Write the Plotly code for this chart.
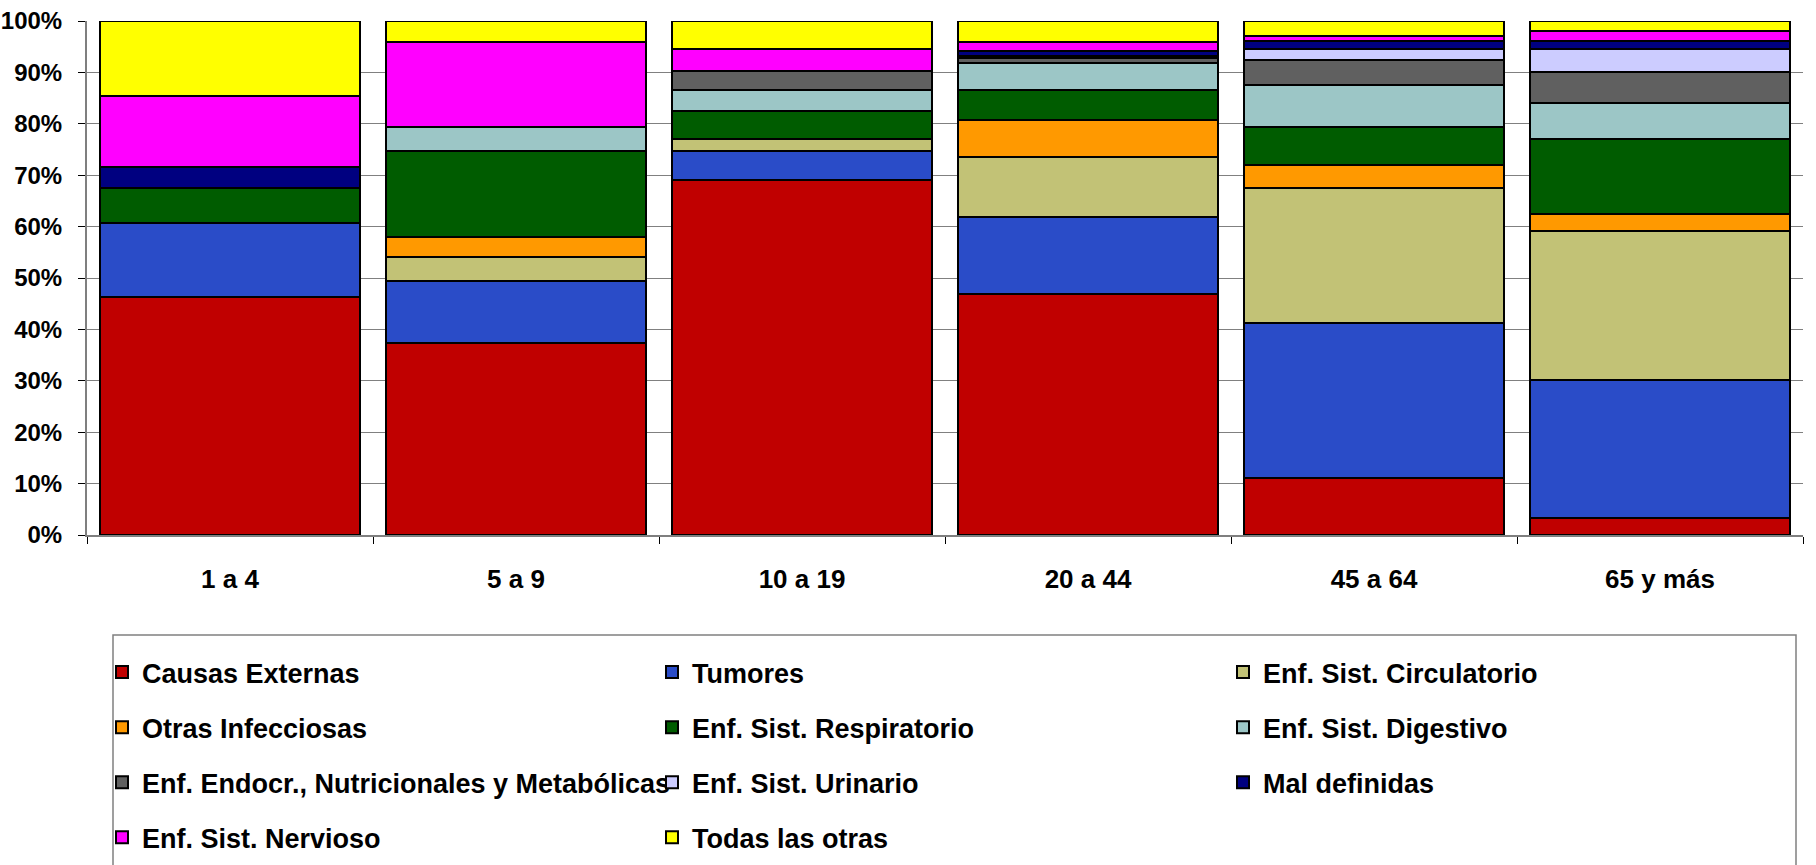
import plotly.graph_objects as go

categories = ["1 a 4", "5 a 9", "10 a 19", "20 a 44", "45 a 64", "65 y más"]

causas_externas = [46.4, 37.4, 69.1, 46.8, 11.0, 3.3]
tumores = [14.3, 12.1, 5.7, 15.1, 30.2, 26.8]
circulatorio = [0.0, 4.5, 2.2, 11.7, 26.3, 29.0]
otras_infecciosas = [0.0, 4.0, 0.0, 7.2, 4.4, 3.3]
respiratorio = [6.9, 16.8, 5.5, 5.7, 7.4, 14.6]
digestivo = [0.0, 4.5, 4.0, 5.3, 8.2, 7.1]
endocrinas = [0.0, 0.0, 3.8, 1.0, 5.0, 6.0]
urinario = [0.0, 0.0, 0.0, 0.4, 2.0, 4.5]
mal_definidas = [3.9, 0.0, 0.0, 0.9, 1.7, 1.6]
nervioso = [14.0, 16.7, 4.2, 1.9, 0.8, 1.8]
todas_otras = [14.5, 4.0, 5.5, 4.0, 3.0, 2.0]

series_names = [
    "Causas Externas", "Tumores", "Enf. Sist. Circulatorio",
    "Otras Infecciosas", "Enf. Sist. Respiratorio", "Enf. Sist. Digestivo",
    "Enf. Endocr., Nutricionales y Metabólicas", "Enf. Sist. Urinario", "Mal definidas",
    "Enf. Sist. Nervioso", "Todas las otras",
]
series_values = [
    causas_externas, tumores, circulatorio, otras_infecciosas, respiratorio,
    digestivo, endocrinas, urinario, mal_definidas, nervioso, todas_otras,
]
series_colors = [
    "#C00000", "#2A4CC8", "#C2C276", "#FF9900", "#005C00", "#9CC6C6",
    "#606060", "#CCCCFF", "#000080", "#FF00FF", "#FFFF00",
]

W, H = 1816, 865
L, R, T, B = 87, 13, 21, 330
plot_w = W - L - R
plot_h = H - T - B
FONT = "Liberation Sans"


def py_to_paper(py):
    return (H - B - py) / plot_h


def px_to_paper(px):
    return (px - L) / plot_w


fig = go.Figure()
legend_ids = ["legend", "legend2", "legend3"]
for i, (name, vals, col) in enumerate(zip(series_names, series_values, series_colors)):
    fig.add_trace(go.Bar(
        name=name, x=categories, y=vals,
        marker=dict(color=col, line=dict(color="black", width=2)),
        legend=legend_ids[i % 3], legendgroup=f"g{i}",
    ))

col_px = [102, 652, 1223]
legend_common = dict(
    orientation="v", xanchor="left", yanchor="top",
    y=py_to_paper(648),
    font=dict(family=FONT, size=27, color="black"),
    bgcolor="rgba(0,0,0,0)", borderwidth=0,
    traceorder="grouped", itemwidth=30, tracegroupgap=17, valign="middle",
)
legends = {lid: dict(legend_common, x=px_to_paper(col_px[k])) for k, lid in enumerate(legend_ids)}

fig.update_layout(
    width=W, height=H,
    margin=dict(l=L, r=R, t=T, b=B, pad=0, autoexpand=False),
    barmode="stack", bargap=0.094,
    plot_bgcolor="rgba(0,0,0,0)", paper_bgcolor="white",
    font=dict(family=FONT, size=26, color="black", weight="bold"),
    showlegend=True,
    **legends,
)
fig.update_xaxes(
    showline=True, linecolor="#7f7f7f", linewidth=2,
    ticks="outside", tickson="boundaries", ticklen=7, tickcolor="black", tickwidth=1,
    tickfont=dict(family=FONT, size=26, color="black", weight="bold"),
    ticklabelstandoff=20,
    showgrid=False,
)
fig.update_yaxes(
    range=[0, 100], dtick=10, ticksuffix="%",
    showline=True, linecolor="#7f7f7f", linewidth=2,
    ticks="outside", ticklen=7, tickcolor="black", tickwidth=1,
    tickfont=dict(family=FONT, size=24, color="black", weight="bold"),
    ticklabelstandoff=11,
    showgrid=True, gridcolor="#808080", gridwidth=1,
    zeroline=False,
)

# legend frame
fig.add_shape(
    type="rect", xref="paper", yref="paper",
    x0=px_to_paper(113), x1=px_to_paper(1796),
    y0=py_to_paper(635), y1=py_to_paper(880),
    line=dict(color="#808080", width=1.5), fillcolor="rgba(0,0,0,0)", layer="below",
)

fig.write_html(
    "out.html",
    config={"displayModeBar": False},
    post_script="document.body.style.margin='0';document.body.style.overflow='hidden';",
)
